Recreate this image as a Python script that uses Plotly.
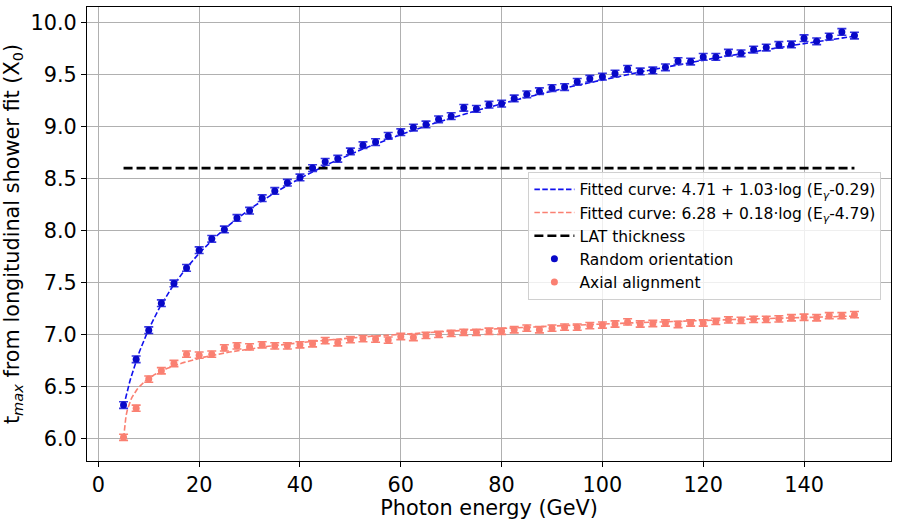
import numpy as np
import plotly.graph_objects as go

energy = [5 + 2.5 * i for i in range(59)]

random_tmax = [6.32, 6.76, 7.04, 7.30, 7.49, 7.64, 7.81, 7.92, 8.01, 8.12,
               8.19, 8.31, 8.38, 8.46, 8.51, 8.60, 8.66, 8.69, 8.76, 8.82,
               8.85, 8.91, 8.945, 8.99, 9.02, 9.07, 9.10, 9.18, 9.17, 9.21,
               9.22, 9.27, 9.31, 9.34, 9.37, 9.38, 9.43, 9.46, 9.48, 9.51,
               9.555, 9.53, 9.54, 9.57, 9.63, 9.625, 9.67, 9.67, 9.71, 9.705,
               9.74, 9.76, 9.785, 9.79, 9.85, 9.82, 9.865, 9.91, 9.875]
random_err = [0.032] * 59

axial_tmax = [6.01, 6.29, 6.57, 6.65, 6.72, 6.81, 6.80, 6.81, 6.87, 6.89,
              6.88, 6.90, 6.89, 6.89, 6.90, 6.91, 6.94, 6.92, 6.95, 6.96,
              6.955, 6.945, 6.98, 6.97, 6.99, 7.00, 7.01, 7.02, 7.02, 7.03,
              7.03, 7.045, 7.06, 7.045, 7.06, 7.07, 7.07, 7.085, 7.09, 7.10,
              7.12, 7.10, 7.105, 7.11, 7.095, 7.11, 7.11, 7.125, 7.14, 7.135,
              7.145, 7.145, 7.15, 7.16, 7.165, 7.16, 7.18, 7.18, 7.19]
axial_err = [0.03] * 59

# fit parameters from the legend: a + b*log(E - c)
fit_random = [4.71, 1.03, 0.29]
fit_axial = [6.28, 0.18, 4.79]
lat_thickness = 8.6
lat_range = [5, 150]

blue_line = '#1010ee'
blue_mark = '#0808c8'
salmon = '#fa8072'

e_fine = np.linspace(5, 150, 600)

fig = go.Figure()

def fit_curve(p):
    return p[0] + p[1] * np.log(e_fine - p[2])

fig.add_trace(go.Scatter(
    x=e_fine, y=fit_curve(fit_random), mode='lines',
    line=dict(color=blue_line, width=1.6, dash='5.5px,2.4px'),
    name='Fitted curve: 4.71 + 1.03·log (E<sub><i>γ</i></sub>-0.29)', legendrank=1))
fig.add_trace(go.Scatter(
    x=e_fine, y=fit_curve(fit_axial), mode='lines',
    line=dict(color=salmon, width=1.6, dash='5.5px,2.4px'),
    name='Fitted curve: 6.28 + 0.18·log (E<sub><i>γ</i></sub>-4.79)', legendrank=2))
fig.add_trace(go.Scatter(
    x=lat_range, y=[lat_thickness, lat_thickness], mode='lines',
    line=dict(color='black', width=2.6, dash='9px,4px'),
    name='LAT thickness', legendrank=3))
fig.add_trace(go.Scatter(
    x=energy, y=random_tmax, mode='markers',
    marker=dict(color=blue_mark, size=7),
    error_y=dict(type='data', array=random_err, color='#3535e0', thickness=1.6, width=4.5),
    name='Random orientation', legendrank=4))
fig.add_trace(go.Scatter(
    x=energy, y=axial_tmax, mode='markers',
    marker=dict(color=salmon, size=7),
    error_y=dict(type='data', array=axial_err, color=salmon, thickness=1.6, width=4.5),
    name='Axial alignment', legendrank=5))

font_family = 'DejaVu Sans'
axis_common = dict(
    showgrid=True, gridcolor='#b0b0b0', gridwidth=1,
    showline=True, linecolor='black', linewidth=1.2, mirror=True,
    ticks='outside', ticklen=5, tickwidth=1.2, tickcolor='black',
    zeroline=False, tickfont=dict(size=20.8, color='black', family=font_family),
)

fig.update_xaxes(range=[-2.25, 157.25], tickmode='array',
                 tickvals=[0, 20, 40, 60, 80, 100, 120, 140],
                 title=dict(text='Photon energy (GeV)', font=dict(size=20.8, color='black', family=font_family), standoff=0),
                 **axis_common)
fig.update_yaxes(range=[5.782, 10.15], tickmode='array',
                 tickvals=[6.0, 6.5, 7.0, 7.5, 8.0, 8.5, 9.0, 9.5, 10.0],
                 ticktext=['6.0', '6.5', '7.0', '7.5', '8.0', '8.5', '9.0', '9.5', '10.0'],
                 title=dict(text='t<sub><i>max</i></sub> from longitudinal shower fit (X<sub>0</sub>)',
                            font=dict(size=20.8, color='black', family=font_family), standoff=8),
                 **axis_common)

fig.update_layout(
    width=898, height=520,
    margin=dict(l=87, r=7, t=7, b=59),
    plot_bgcolor='white', paper_bgcolor='white',
    font=dict(family=font_family, color='black'),
    legend=dict(x=0.549, y=0.637, xanchor='left', yanchor='top',
                bgcolor='rgba(255,255,255,0.8)', bordercolor='#d0d0d0', borderwidth=1,
                font=dict(size=15.5, family=font_family, color='black'),
                tracegroupgap=0, itemwidth=40),
    showlegend=True,
)

fig.write_html('out.html')
